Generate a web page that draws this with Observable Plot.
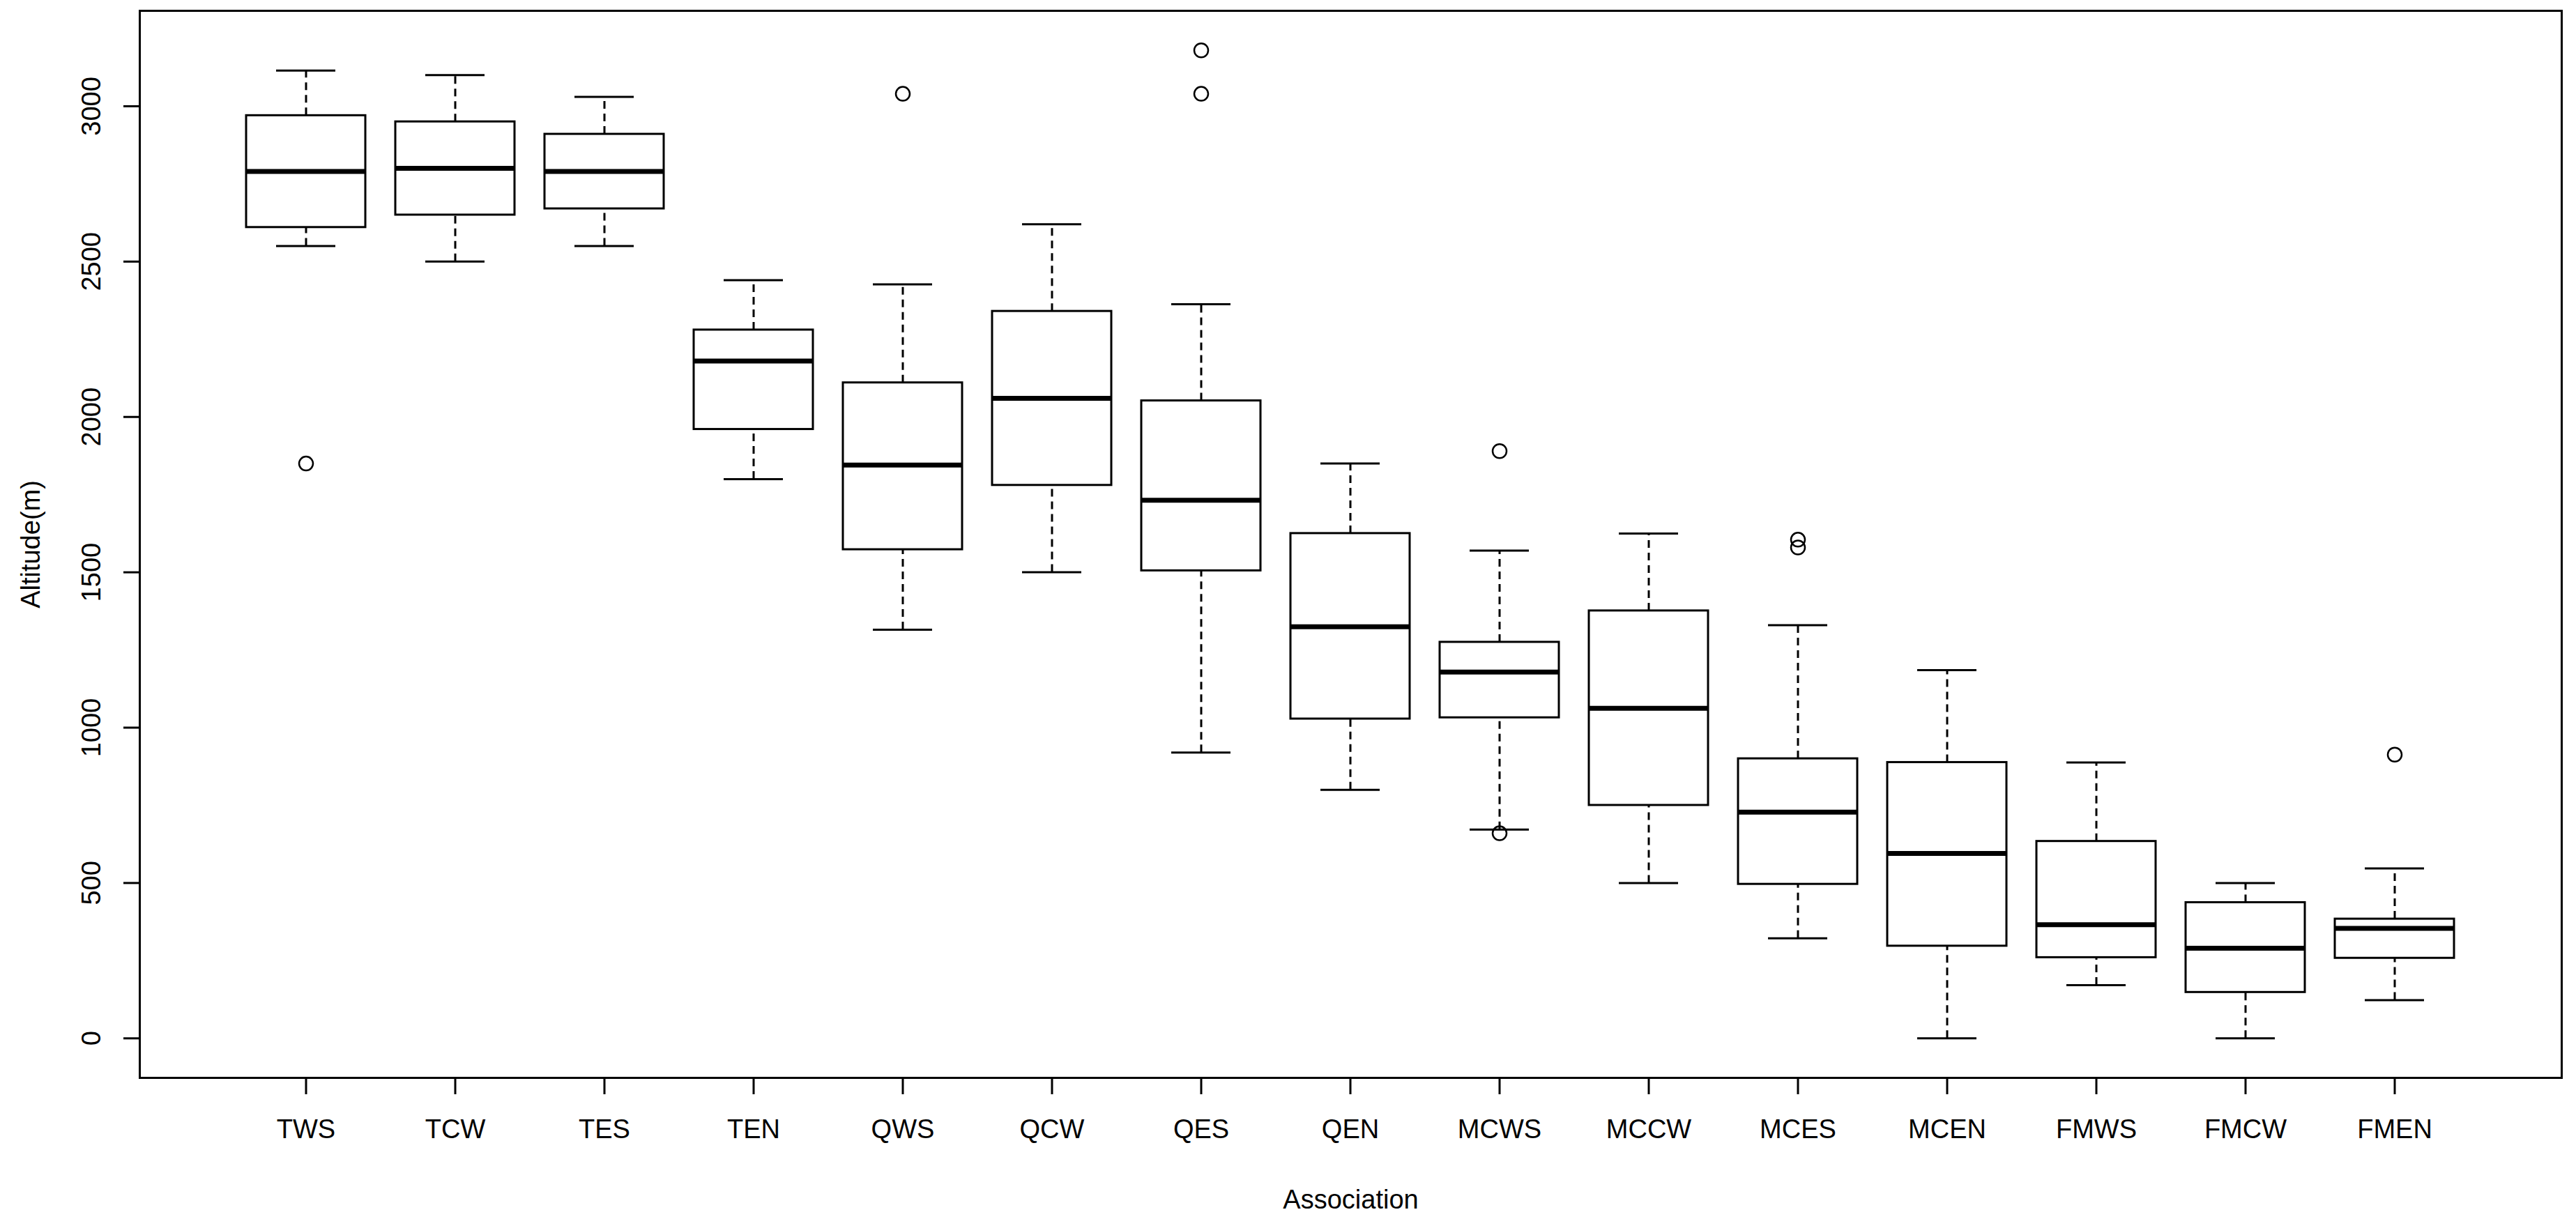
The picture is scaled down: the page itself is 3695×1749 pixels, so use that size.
<!DOCTYPE html>
<html>
<head>
<meta charset="utf-8">
<script src="https://cdn.jsdelivr.net/npm/d3@7"></script>
<script src="https://cdn.jsdelivr.net/npm/@observablehq/plot@0.6"></script>
<style>
  html, body { margin: 0; padding: 0; background: #fff; }
  svg { display: block; }
</style>
</head>
<body>
<div id="chart"></div>
<script>
// ---- Data ----
const categories   = ["TWS","TCW","TES","TEN","QWS","QCW","QES","QEN","MCWS","MCCW","MCES","MCEN","FMWS","FMCW","FMEN"];
const lowerWhisker = [2550, 2500, 2550, 1800, 1315, 1500,  920,  800,  672,  500,  322,    0,  171,    0,  123];
const lowerQuart   = [2610, 2650, 2670, 1960, 1573, 1780, 1505, 1028, 1032,  750,  496,  297,  260,  148,  258];
const medianValue  = [2790, 2800, 2790, 2180, 1845, 2060, 1732, 1325, 1179, 1062,  728,  595,  366,  290,  354];
const upperQuart   = [2970, 2950, 2910, 2280, 2110, 2340, 2052, 1625, 1275, 1376,  900,  888,  634,  437,  384];
const upperWhisker = [3115, 3100, 3030, 2440, 2427, 2620, 2363, 1850, 1570, 1625, 1330, 1185,  888,  500,  547];
const outlierGroup = ["TWS","QWS","QES","QES","MCWS","MCWS","MCES","MCES","FMEN"];
const outlierValue = [1850, 3040, 3040, 3180, 1890,  660, 1605, 1580,  913];
const yTicks       = [0, 500, 1000, 1500, 2000, 2500, 3000];

// ---- Tables built from the arrays ----
const boxes = categories.map((c, i) => ({
  c, lo: lowerWhisker[i], q1: lowerQuart[i], med: medianValue[i], q3: upperQuart[i], hi: upperWhisker[i]
}));
const outliers = outlierGroup.map((c, i) => ({ c, v: outlierValue[i] }));

// R-style 4% extension of the data range
const [ymin, ymax] = d3.extent([...lowerWhisker, ...upperWhisker, ...outlierValue]);
const pad = (ymax - ymin) * 0.04;

const font = '"Liberation Sans", Arial, Helvetica, sans-serif';
const ink = "#000";

const chart = Plot.plot({
  width: 3695,
  height: 1749,
  marginLeft: 200,
  marginRight: 21,
  marginTop: 15,
  marginBottom: 203,
  style: { fontFamily: font, fontSize: "38px", color: ink, background: "#fff" },
  x: { type: "band", domain: categories, paddingInner: 0.2, paddingOuter: 0.7, label: null },
  y: { domain: [ymin - pad, ymax + pad], label: null },
  marks: [
    // whiskers (dashed)
    Plot.ruleX(boxes, { x: "c", y1: "lo", y2: "q1", stroke: ink, strokeWidth: 3, strokeDasharray: "11,7" }),
    Plot.ruleX(boxes, { x: "c", y1: "q3", y2: "hi", stroke: ink, strokeWidth: 3, strokeDasharray: "11,7" }),
    // staples
    Plot.tickY(boxes, { x: "c", y: "lo", insetLeft: 43, insetRight: 43, stroke: ink, strokeWidth: 3 }),
    Plot.tickY(boxes, { x: "c", y: "hi", insetLeft: 43, insetRight: 43, stroke: ink, strokeWidth: 3 }),
    // boxes
    Plot.barY(boxes, { x: "c", y1: "q1", y2: "q3", fill: "#fff", stroke: ink, strokeWidth: 3 }),
    // medians
    Plot.tickY(boxes, { x: "c", y: "med", stroke: ink, strokeWidth: 7 }),
    // outliers
    Plot.dot(outliers, { x: "c", y: "v", r: 10, stroke: ink, strokeWidth: 2.5, fill: "none" }),
    // frame
    Plot.frame({ stroke: ink, strokeWidth: 3 }),
    // axes
    Plot.axisY({
      ticks: yTicks, tickFormat: d => String(d), tickSize: 23, tickPadding: 46,
      tickRotate: -90, textAnchor: "middle", lineAnchor: "middle",
      fontSize: 38, strokeWidth: 3, stroke: ink, fill: ink, label: null
    }),
    Plot.axisX({
      tickSize: 24, tickPadding: 36, fontSize: 38, strokeWidth: 3, stroke: ink, fill: ink, label: null
    }),
    // axis titles
    Plot.text(["Association"], { frameAnchor: "bottom", dy: 175, lineAnchor: "middle", fontSize: 38, fill: ink }),
    Plot.text(["Altitude(m)"], { frameAnchor: "left", dx: -156, rotate: -90, lineAnchor: "middle", textAnchor: "middle", fontSize: 38, fill: ink })
  ]
});

document.getElementById("chart").appendChild(chart);
</script>
</body>
</html>
